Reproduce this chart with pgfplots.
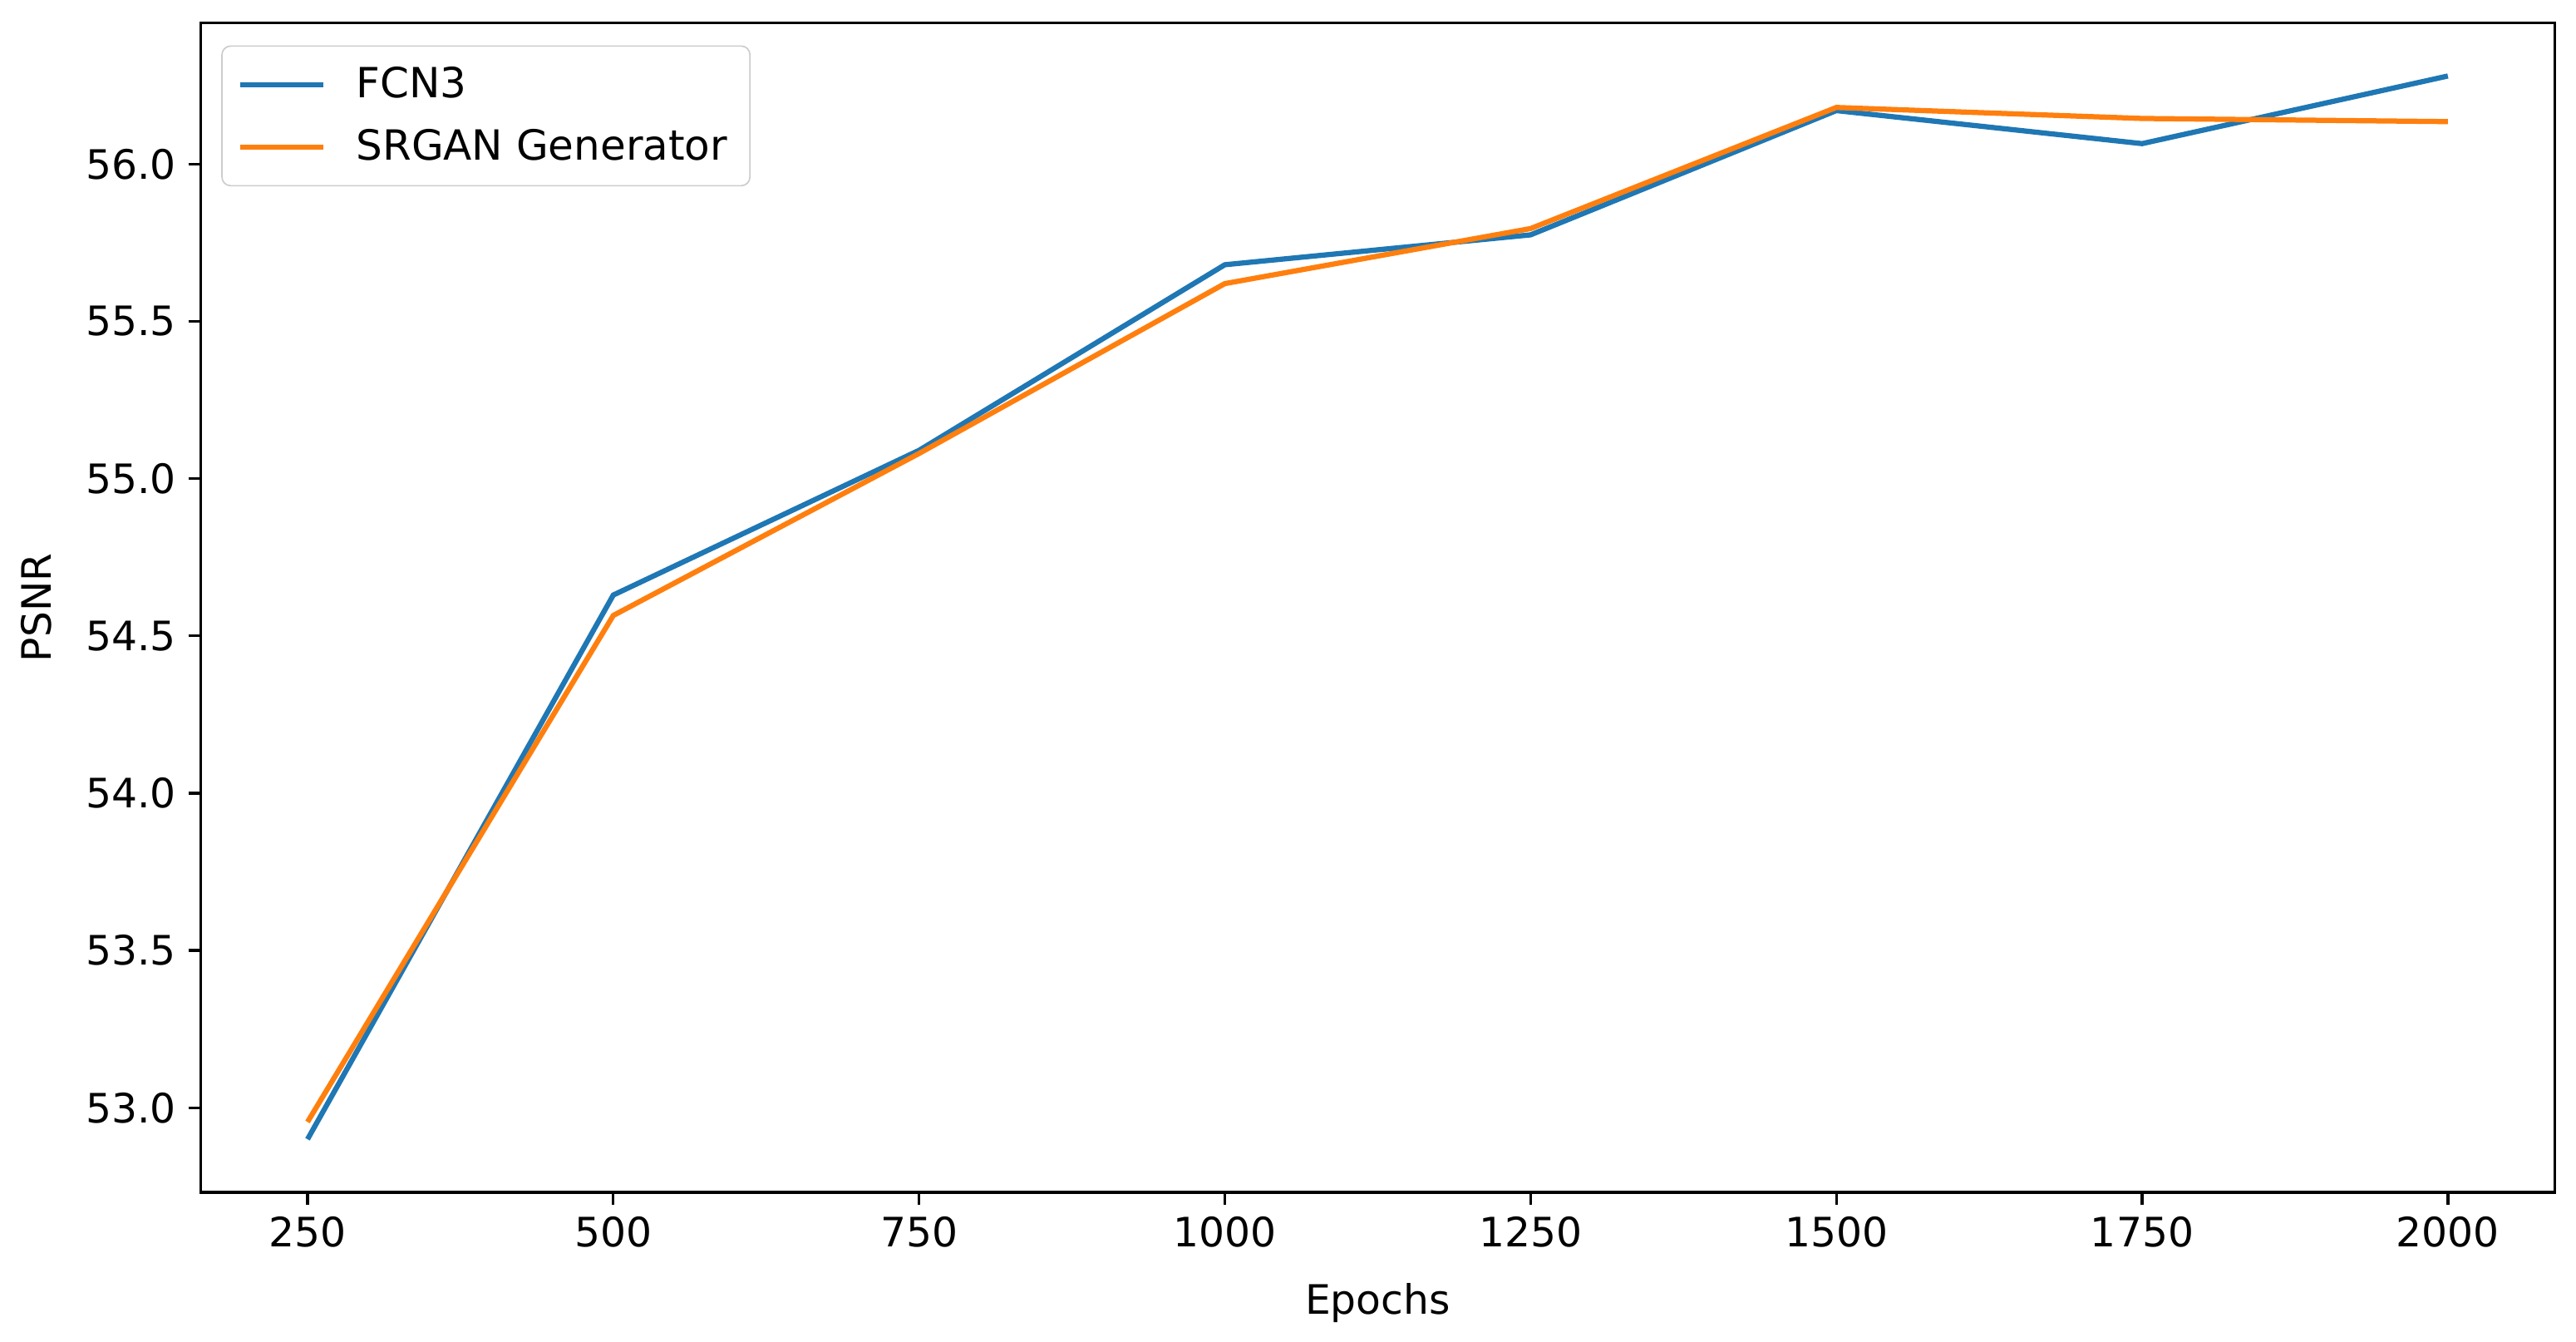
\documentclass[border=0pt]{standalone}
\usepackage{fontspec}
\setmainfont{DejaVu Sans}
\usepackage{pgfplots}
\pgfplotsset{compat=1.18}
\definecolor{c0}{HTML}{1F77B4}
\definecolor{c1}{HTML}{FF7F0E}
\begin{document}
\begin{tikzpicture}
\path[use as bounding box] (-57.9pt,-43.1pt) rectangle (685.9pt,344.2pt);
\begin{axis}[
  scale only axis,
  width=679.8pt, height=337.6pt,
  xmin=162.5, xmax=2087.5,
  ymin=52.731, ymax=56.449,
  xtick={250,500,750,1000,1250,1500,1750,2000},
  ytick={53.0,53.5,54.0,54.5,55.0,55.5,56.0},
  /pgf/number format/assume math mode=true,
  /pgf/number format/1000 sep={},
  yticklabel style={/pgf/number format/fixed,/pgf/number format/precision=1,/pgf/number format/fixed zerofill},
  tick label style={font=\fontsize{11.7}{14}\selectfont},
  label style={font=\fontsize{11.7}{14}\selectfont},
  xlabel={Epochs}, ylabel={PSNR},
  ylabel style={yshift=3pt},
  xlabel style={yshift=-3.5pt},
  tick align=outside, tick pos=left,
  major tick length=3.5pt,
  every tick/.style={black, line width=0.8pt},
  axis line style={line width=0.8pt},
  legend style={at={(0,1)}, anchor=north west, xshift=6pt, yshift=-6.5pt,
    draw=black!20, rounded corners=2.5pt, font=\fontsize{12}{14}\selectfont,
    inner xsep=4.5pt, inner ysep=4pt, row sep=3.5pt},
  legend cell align=left,
  legend image code/.code={\draw[#1, line width=1.5pt] (0pt,0pt) -- (24pt,0pt); \path[draw=none] (0pt,0pt) -- (31.5pt,0pt);},
]
\addplot[c0, line width=1.5pt] coordinates {
(250,52.90) (500,54.63) (750,55.09) (1000,55.68) (1250,55.775) (1500,56.17) (1750,56.065) (2000,56.28)};
\addlegendentry{FCN3}
\addplot[c1, line width=1.5pt] coordinates {
(250,52.955) (500,54.565) (750,55.08) (1000,55.62) (1250,55.795) (1500,56.18) (1750,56.145) (2000,56.135)};
\addlegendentry{SRGAN Generator}
\end{axis}
\end{tikzpicture}
\end{document}
